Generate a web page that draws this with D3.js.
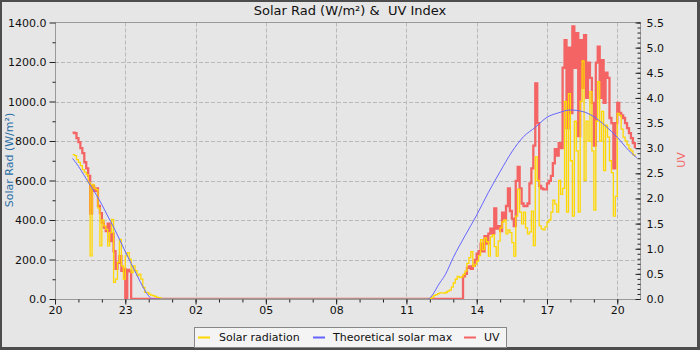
<!DOCTYPE html>
<html><head><meta charset="utf-8">
<script src="https://cdn.jsdelivr.net/npm/d3@7"></script>
<style>html,body{margin:0;padding:0;background:#4d4d4d}svg{display:block}</style>
</head><body>
<svg id="chart" width="700" height="350"></svg>
<script>
// ---------- DATA ----------
const chartTitle = "Solar Rad (W/m²) &  UV Index";
const leftAxisTitle = "Solar Rad (W/m²)";
const rightAxisTitle = "UV";
const xTickLabels = ["20","23","02","05","08","11","14","17","20"];
const seriesNames = ["Solar radiation","Theoretical solar max","UV"];

// shared sample times (5-minute records), evening then next day
const sampleTimes = [
 "20:45","20:50","20:55","21:00","21:05","21:10","21:15","21:20","21:25","21:30","21:35","21:40",
 "21:45","21:50","21:55","22:00","22:05","22:10","22:15","22:20","22:25","22:30","22:35","22:40",
 "22:45","22:50","22:55","23:00","23:05","23:10","23:15","23:20","23:25","23:30","23:35","23:40",
 "23:45","23:50","23:55","00:00","00:05","00:10","00:15","00:20","00:25","00:30","00:35","00:40",
 "12:00","12:05","12:10","12:15","12:20","12:25","12:30","12:35","12:40","12:45","12:50","12:55",
 "13:00","13:05","13:10","13:15","13:20","13:25","13:30","13:35","13:40","13:45","13:50","13:55",
 "14:00","14:05","14:10","14:15","14:20","14:25","14:30","14:35","14:40","14:45","14:50","14:55",
 "15:00","15:05","15:10","15:15","15:20","15:25","15:30","15:35","15:40","15:45","15:50","15:55",
 "16:00","16:05","16:10","16:15","16:20","16:25","16:30","16:35","16:40","16:45","16:50","16:55",
 "17:00","17:05","17:10","17:15","17:20","17:25","17:30","17:35","17:40","17:45","17:50","17:55",
 "18:00","18:05","18:10","18:15","18:20","18:25","18:30","18:35","18:40","18:45","18:50","18:55",
 "19:00","19:05","19:10","19:15","19:20","19:25","19:30","19:35","19:40","19:45","19:50","19:55",
 "20:00","20:05","20:10","20:15","20:20","20:25","20:30","20:35","20:40","20:45"
];

const solarRadiation = [
 731,726,706,692,675,655,642,630,590,218,580,560,
 554,460,269,400,370,353,269,336,403,84,101,185,
 302,168,101,218,235,202,134,168,143,118,126,101,
 59,34,34,25,20,17,13,8,7,3,0,0,
 3,10,18,22,27,31,31,30,33,40,45,60,
 81,100,115,108,112,124,141,180,210,240,165,175,
 192,220,300,250,310,290,217,315,325,265,217,293,
 360,390,400,330,350,336,285,217,420,556,440,380,
 440,360,330,340,445,270,720,600,370,355,350,365,
 390,400,440,500,480,440,600,530,560,1000,440,1040,
 700,420,900,750,440,1000,1205,600,900,800,1050,750,
 450,900,1100,800,950,650,880,820,700,640,420,520,
 940,930,860,820,800,780,760,750,730,720
];

const uvIndex = [
 3.31,3.30,3.20,3.12,3.00,2.90,2.72,2.60,2.45,1.70,2.25,2.15,
 2.20,1.85,1.71,1.52,1.42,1.35,1.50,1.15,1.30,0.95,0.60,0.72,
 0.85,0.56,0.60,0,0.58,0.55,0,0,0,0,0,0,
 0,0,0,0,0,0,0,0,0,0,0,0,
 0,0,0,0,0,0,0,0,0,0,0,0,
 0,0,0,0,0,0.45,0.50,0.62,0.65,0.60,0.66,0.78,
 0.90,0.95,1.10,0.95,1.25,1.10,1.30,1.40,1.30,1.80,1.40,1.45,
 1.35,1.72,1.60,1.85,2.20,1.75,1.60,1.45,2.35,2.63,2.20,1.90,
 1.85,1.85,1.90,2.30,2.60,3.05,4.29,3.50,2.25,2.20,2.18,2.18,
 2.30,2.35,2.45,2.70,2.98,2.85,3.10,3.00,4.60,5.15,3.40,5.00,
 3.70,5.42,4.60,5.29,3.24,5.15,4.20,5.25,4.00,4.70,4.40,3.90,
 3.05,4.70,5.02,4.00,4.75,3.90,4.50,4.40,3.60,3.50,2.60,3.50,
 3.90,3.70,3.65,3.60,3.50,3.40,3.30,3.20,3.10,3.00
];

const theoTimes = ["20:45","21:00","21:15","21:30","21:45","22:00","22:15","22:30","22:45","23:00",
 "23:15","23:30","23:45","00:00","00:10","11:55","12:10","12:20","12:40","13:00","13:30","14:00",
 "14:30","15:00","15:30","16:00","16:30","17:00","17:30","18:00","18:30","19:00","19:30","20:00","20:30","20:50"];
const theoreticalMax = [712,672,625,577,530,478,420,364,303,240,
 180,120,62,15,0,0,30,65,125,210,320,425,
 540,645,745,822,869,920,943,957,950,923,876,819,751,715];

const leftTicks = [0,200,400,600,800,1000,1200,1400];
const rightTicks = [0,0.5,1,1.5,2,2.5,3,3.5,4,4.5,5,5.5];

// ---------- HELPERS ----------
// hours elapsed since 20:00 of the first day, rolling over days in sequence
function toHours(list){
  let prev = -1, out = [];
  list.forEach(s=>{
    const [h,m] = s.split(":").map(Number);
    let v = h + m/60 - 20; if (v < 0) v += 24;
    while (v < prev) v += 24;
    prev = v; out.push(v);
  });
  return out;
}
const tS = toHours(sampleTimes);
const tT = toHours(theoTimes);
const solarData = tS.map((t,i)=>({t, v: solarRadiation[i]}));
const uvData = tS.map((t,i)=>({t, v: uvIndex[i]}));
const theoData = tT.map((t,i)=>({t, v: theoreticalMax[i]}));

// ---------- LAYOUT ----------
const W = 700, H = 350;
const L = 55, R = 640, T = 22.5, B = 299;
const font = "DejaVu Sans, Verdana, sans-serif";
const C = {bg:"#e6e6e6", frame:"#4d4d4d", solar:"#ffd700", theo:"#6464ff", uv:"#f46464",
           grid:"#b9b9b9", axis:"#999999", text:"#111111", leftTitle:"#2a6fa5"};

const svg = d3.select("#chart");
svg.append("rect").attr("x",0).attr("y",0).attr("width",W).attr("height",H).attr("fill",C.frame);
svg.append("rect").attr("x",2).attr("y",2).attr("width",W-5).attr("height",H-5).attr("fill",C.bg);

const x = d3.scaleLinear().domain([0, 24.97]).range([L, R]);
const yL = d3.scaleLinear().domain([0, 1400]).range([B, T]);
const yR = d3.scaleLinear().domain([0, 5.5]).range([B, T]);

// grid
const g = svg.append("g");
g.selectAll("line.vg").data(d3.range(3, 25, 3)).join("line")
  .attr("x1", d=>Math.round(x(d))+0.5).attr("x2", d=>Math.round(x(d))+0.5)
  .attr("y1", T).attr("y2", B)
  .attr("stroke", C.grid).attr("stroke-dasharray","4,2");
g.selectAll("line.hg").data(leftTicks.filter(d=>d>0 && d<1400)).join("line")
  .attr("x1", L).attr("x2", R)
  .attr("y1", d=>Math.round(yL(d))+0.5).attr("y2", d=>Math.round(yL(d))+0.5)
  .attr("stroke", C.grid).attr("stroke-dasharray","4,2");

// clip
svg.append("clipPath").attr("id","plotclip").append("rect")
  .attr("x",L).attr("y",T).attr("width",R-L).attr("height",B-T);
const plot = svg.append("g").attr("clip-path","url(#plotclip)");

const uvLine = d3.line().x(d=>x(d.t)).y(d=>yR(d.v)).curve(d3.curveStepAfter);
const solarLine = d3.line().x(d=>x(d.t)).y(d=>yL(d.v)).curve(d3.curveStepAfter);
const theoLine = d3.line().x(d=>x(d.t)).y(d=>yL(d.v)).curve(d3.curveMonotoneX);

plot.append("path").datum(uvData).attr("d", uvLine).attr("fill","none")
  .attr("stroke", C.uv).attr("stroke-width", 2.3);
plot.append("path").datum(solarData).attr("d", solarLine).attr("fill","none")
  .attr("stroke", C.solar).attr("stroke-width", 1.3);
plot.append("path").datum(theoData).attr("d", theoLine).attr("fill","none")
  .attr("stroke", C.theo).attr("stroke-width", 1);

// frame
svg.append("rect").attr("x",L+0.5).attr("y",T).attr("width",R-L).attr("height",B-T+0.5)
  .attr("fill","none").attr("stroke",C.axis);

function styleAxis(sel){
  sel.select(".domain").remove();
  sel.selectAll(".tick line").attr("stroke","#222");
  sel.selectAll(".tick text").attr("fill",C.text).style("font-family",font).style("font-size","11px");
}

// left axis
svg.append("g").attr("transform",`translate(${L+0.5},0)`)
  .call(d3.axisLeft(yL).tickValues(d3.range(100,1400,200)).tickFormat("").tickSize(3)).call(styleAxis);
svg.append("g").attr("transform",`translate(${L+0.5},0)`)
  .call(d3.axisLeft(yL).tickValues(leftTicks).tickFormat(d3.format(".1f")).tickSize(6).tickPadding(3)).call(styleAxis);

// right axis (ticks inside)
svg.append("g").attr("transform",`translate(${R+0.5},0)`)
  .call(d3.axisRight(yR).tickValues(d3.range(0,56).map(i=>i/10)).tickFormat("").tickSizeInner(-3).tickSizeOuter(0)).call(styleAxis);
svg.append("g").attr("transform",`translate(${R+0.5},0)`)
  .call(d3.axisRight(yR).tickValues(rightTicks).tickFormat(d3.format(".1f")).tickSizeInner(-5).tickSizeOuter(0).tickPadding(6)).call(styleAxis);

// bottom axis
svg.append("g").attr("transform",`translate(0,${B+0.5})`)
  .call(d3.axisBottom(x).tickValues(d3.range(0,25,1)).tickFormat("").tickSize(3)).call(styleAxis);
svg.append("g").attr("transform",`translate(0,${B+0.5})`)
  .call(d3.axisBottom(x).tickValues(d3.range(0,25,3)).tickFormat((d,i)=>xTickLabels[i]).tickSize(5).tickPadding(2)).call(styleAxis);

// titles
svg.append("text").attr("x",350).attr("y",15).attr("text-anchor","middle")
  .attr("xml:space","preserve").style("white-space","pre")
  .style("font-family",font).style("font-size","13px").attr("fill",C.text).text(chartTitle);
svg.append("text").attr("transform","translate(13,160) rotate(-90)").attr("text-anchor","middle")
  .style("font-family",font).style("font-size","11px").attr("fill",C.leftTitle).text(leftAxisTitle);
svg.append("text").attr("transform","translate(685,160) rotate(-90)").attr("text-anchor","middle")
  .style("font-family",font).style("font-size","11px").attr("fill",C.uv).text(rightAxisTitle);

// legend
const lg = svg.append("g");
lg.append("rect").attr("x",194.5).attr("y",327.5).attr("width",312).attr("height",20)
  .attr("fill","#f4f4f4").attr("stroke","#888");
const items = [
  {name: seriesNames[0], color: C.solar, mx: 198, tx: 219},
  {name: seriesNames[1], color: C.theo, mx: 313, tx: 333},
  {name: seriesNames[2], color: C.uv, mx: 464, tx: 484}
];
items.forEach(it=>{
  lg.append("line").attr("x1",it.mx).attr("x2",it.mx+12).attr("y1",337.5).attr("y2",337.5)
    .attr("stroke",it.color).attr("stroke-width",2);
  lg.append("text").attr("x",it.tx).attr("y",341).style("font-family",font).style("font-size","11px")
    .attr("fill",C.text).text(it.name);
});
</script>
</body></html>
